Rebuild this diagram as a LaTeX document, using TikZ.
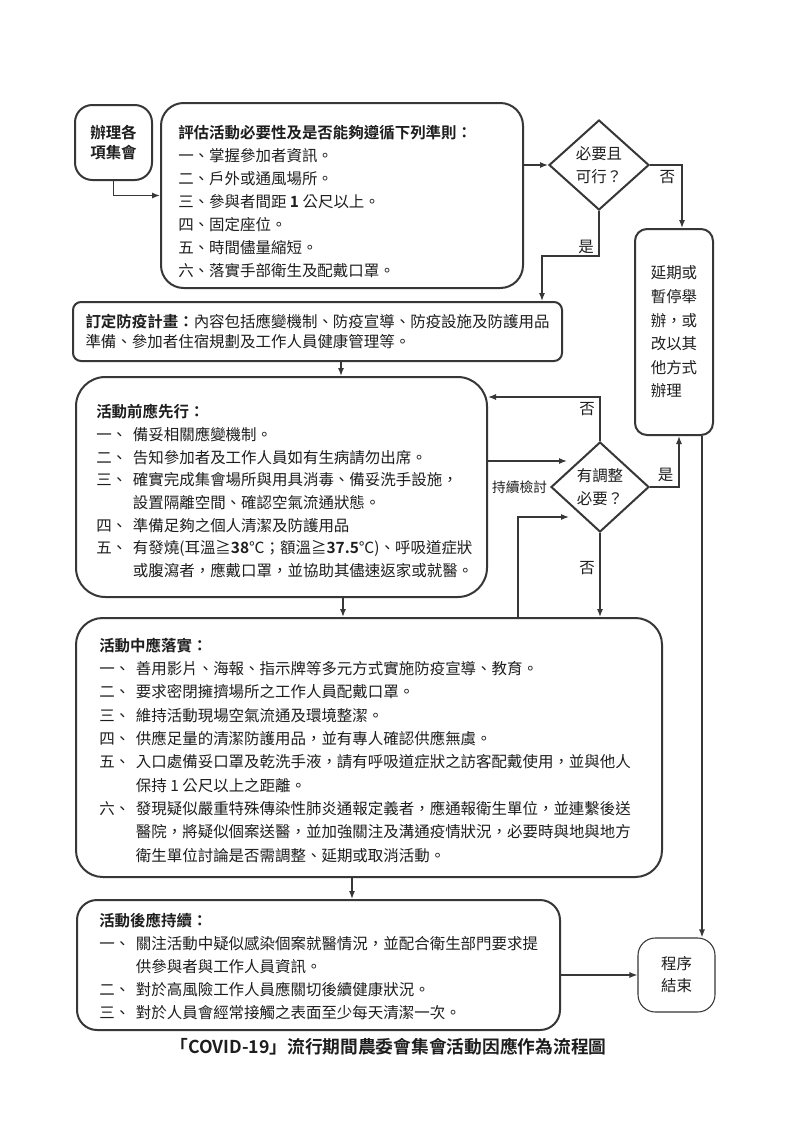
\documentclass[tikz,border=0pt]{standalone}
\usepackage{fontspec}
\setmainfont{Noto Sans CJK TC}[BoldFont={Noto Sans CJK TC Bold}]
\usetikzlibrary{shapes.geometric,arrows.meta}

\definecolor{linegray}{RGB}{55,55,55}
\definecolor{inkgray}{RGB}{30,30,30}

\newcommand{\itemlbl}[1]{\makebox[27.5pt][l]{#1}}
\newcommand{\itemgap}{\hspace*{27.5pt}}
\newcommand{\bodyfont}[1]{\fontsize{11.6}{#1}\selectfont}

\tikzset{
  flowbox/.style={draw=linegray, line width=1.5pt, rounded corners=#1, inner sep=0pt},
  termbox/.style={draw=linegray, rounded corners=13pt, align=center, inner sep=0pt,
    minimum width=57.75pt},
  decide/.style={diamond, draw=linegray, line width=1.5pt, inner sep=0pt, aspect=1.1,
    minimum width=75pt, minimum height=67.5pt, align=center},
  boxtext/.style={anchor=north west, inner sep=0pt, align=left},
  flow/.style={draw=linegray, line width=1.1pt, ->},
  >={Latex[length=6pt,width=4.6pt]}
}

\begin{document}
\begin{tikzpicture}[x=0.75pt, y=-0.75pt, font=\bodyfont{17.2pt}, color=inkgray]
    \useasboundingbox (0,0) rectangle (800,1131);
    \fill[white] (0,0) rectangle (800,1131);

    % boxes
    \node[termbox, line width=1.5pt, minimum height=56.25pt, font=\bfseries\fontsize{11.6}{15.5}\selectfont]
        (st) at (113.5,142.5) {辦理各\\項集會};
    \node[flowbox=17pt, minimum width=271.5pt, minimum height=138.75pt] (b1) at (342,195.5) {};
    \node[decide] (d1) at (599,165) {必要且\\可行？};
    \node[flowbox=9pt, minimum width=58.5pt, minimum height=154.5pt, align=left,
        font=\bodyfont{17.7pt}] (alt) at (674,332)
        {延期或\\暫停舉\\辦，或\\改以其\\他方式\\辦理};
    \node[flowbox=6pt, minimum width=366.75pt, minimum height=44.25pt, align=left,
        font=\bodyfont{14.5pt}] (b2) at (317.5,331.5)
        {\textbf{訂定防疫計畫：}內容包括應變機制、防疫宣導、防疫設施及防護用品\\
         準備、參加者住宿規劃及工作人員健康管理等。};
    \node[flowbox=22pt, minimum width=308.25pt, minimum height=165pt] (b3) at (281.5,487) {};
    \node[decide, minimum width=73.5pt] (d2) at (600,487) {有調整\\必要？};
    \node[flowbox=20pt, minimum width=439.5pt, minimum height=194.25pt] (b4) at (369,747.5) {};
    \node[flowbox=15pt, minimum width=362.25pt, minimum height=97.5pt] (b5) at (318.5,965) {};
    \node[termbox, line width=0.8pt, minimum height=55.5pt, font=\bodyfont{16.5pt}]
        (en) at (676.5,975) {程序\\結束};

    % box texts
    \node[boxtext] (t1) at (178,125.5) {\textbf{評估活動必要性及是否能夠遵循下列準則：}\\
        一、掌握參加者資訊。\\
        二、戶外或通風場所。\\
        三、參與者間距 \textbf{1} 公尺以上。\\
        四、固定座位。\\
        五、時間儘量縮短。\\
        六、落實手部衛生及配戴口罩。};
    \node[boxtext, font=\bodyfont{17pt}] (t3) at (96,404.2) {\textbf{活動前應先行：}\\
        \itemlbl{一、}備妥相關應變機制。\\
        \itemlbl{二、}告知參加者及工作人員如有生病請勿出席。\\
        \itemlbl{三、}確實完成集會場所與用具消毒、備妥洗手設施，\\
        \itemgap 設置隔離空間、確認空氣流通狀態。\\
        \itemlbl{四、}準備足夠之個人清潔及防護用品\\
        \itemlbl{五、}有發燒(耳溫≧\textbf{38}℃；額溫≧\textbf{37.5}℃)、呼吸道症狀\\
        \itemgap 或腹瀉者，應戴口罩，並協助其儘速返家或就醫。};
    \node[boxtext, font=\bodyfont{17.5pt}] (t4) at (99,637.5) {\textbf{活動中應落實：}\\
        \itemlbl{一、}善用影片、海報、指示牌等多元方式實施防疫宣導、教育。\\
        \itemlbl{二、}要求密閉擁擠場所之工作人員配戴口罩。\\
        \itemlbl{三、}維持活動現場空氣流通及環境整潔。\\
        \itemlbl{四、}供應足量的清潔防護用品，並有專人確認供應無虞。\\
        \itemlbl{五、}入口處備妥口罩及乾洗手液，請有呼吸道症狀之訪客配戴使用，並與他人\\
        \itemgap 保持 1 公尺以上之距離。\\
        \itemlbl{六、}發現疑似嚴重特殊傳染性肺炎通報定義者，應通報衛生單位，並連繫後送\\
        \itemgap 醫院，將疑似個案送醫，並加強關注及溝通疫情狀況，必要時與地與地方\\
        \itemgap 衛生單位討論是否需調整、延期或取消活動。};
    \node[boxtext, font=\bodyfont{17.4pt}] (t5) at (99,912.5) {\textbf{活動後應持續：}\\
        \itemlbl{一、}關注活動中疑似感染個案就醫情況，並配合衛生部門要求提\\
        \itemgap 供參與者與工作人員資訊。\\
        \itemlbl{二、}對於高風險工作人員應關切後續健康狀況。\\
        \itemlbl{三、}對於人員會經常接觸之表面至少每天清潔一次。};

    % connectors
    \draw[flow] (st.south) |- (b1.west);
    \draw[flow] (b1.east |- d1.west) -- (d1.west);
    \draw[flow] (d1.east) -| node[below, pos=0.27] (no1) {否} ([xshift=6pt]alt.north);
    \draw[flow] (d1.south) -- node[left, pos=0.8] (yes1) {是} ++(0,45)
        -| ([xshift=-15.75pt]b2.north east);
    \draw[flow] ([xshift=17.6pt]b2.south) coordinate (a1) -- (a1 |- b3.north);
    \draw[flow] ([xshift=46.1pt]b3.south) coordinate (a2) -- (a2 |- b4.north);
    \draw[flow] ([xshift=-12.75pt]b4.south) coordinate (a3) -- (a3 |- b5.north);

    \coordinate (k1) at (567,461);
    \draw[flow] (b3.east |- k1) -- (k1);
    \draw[flow] (d2.north) |- node[left, pos=0.36] (no2) {否} ([yshift=67.5pt]b3.east);
    \draw[flow] (d2.south) -- node[left, pos=0.42] (no3) {否} (d2.south |- b4.north);
    \coordinate (k2) at (569,517);
    \draw[flow] ([xshift=111.75pt]b4.north) |- (k2);
    \node[left, inner sep=2pt, font=\fontsize{10.3}{12}\selectfont] (keep) at (d2.west) {持續檢討};

    \draw[flow] (d2.east) -| node[above, pos=0.27] (yes2) {是} ([xshift=3.75pt]alt.south);
    \draw[flow] ([xshift=21pt]alt.south) coordinate (a4) -- (a4 |- en.north);
    \draw[flow] (b5.east |- en.west) -- (en.west);

    % caption
    \node[font=\bfseries\fontsize{13.3}{16}\selectfont] (cap) at (388.5,1047)
        {「COVID-19」流行期間農委會集會活動因應作為流程圖};
\end{tikzpicture}
\end{document}
